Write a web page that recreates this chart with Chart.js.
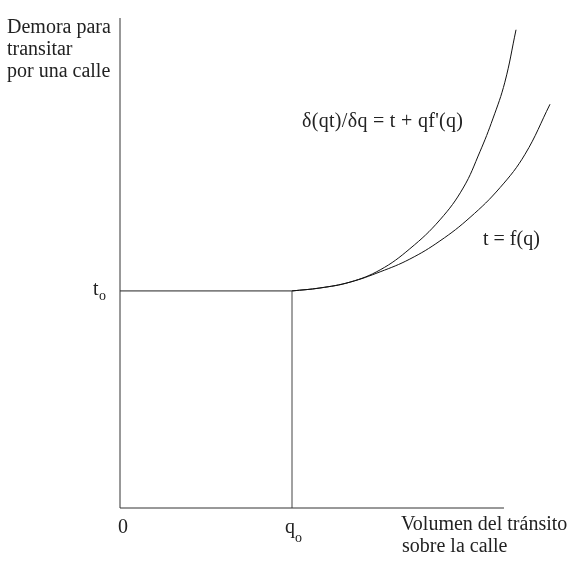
<!DOCTYPE html>
<html>
<head>
<meta charset="utf-8">
<script src="https://cdn.jsdelivr.net/npm/chart.js@4"></script>
<style>
  html, body { margin: 0; padding: 0; background: #fff; }
  canvas { display: block; }
</style>
</head>
<body>
<canvas id="chart" width="581" height="561"></canvas>
<script>
// valores (unidades arbitrarias)
const q0 = 4.0;
const t0 = 4.43;
const xAxisEnd = 8.93;
const yAxisEnd = 10;

// t = f(q)
const costX = [4.0, 4.65, 5.35, 6.05, 6.74, 7.44, 8.14, 8.84, 9.42, 10.0];
const costY = [4.43, 4.49, 4.61, 4.82, 5.08, 5.45, 5.93, 6.54, 7.22, 8.24];

// δ(qt)/δq = t + qf'(q)
const margX = [4.0, 4.65, 5.35, 6.05, 6.74, 7.44, 7.98, 8.37, 8.67, 8.95, 9.21];
const margY = [4.43, 4.49, 4.61, 4.86, 5.29, 5.88, 6.53, 7.27, 7.94, 8.69, 9.76];

const FONT = '"Liberation Serif", "Times New Roman", serif';

const toPoints = (xs, ys) => xs.map((x, i) => ({ x, y: ys[i] }));

const lineSet = (data, color, curved) => ({
  data,
  borderColor: color,
  borderWidth: 1,
  pointRadius: 0,
  showLine: true,
  fill: false,
  clip: false,
  tension: curved ? 0.4 : 0
});

// textos del diagrama
const labelsPlugin = {
  id: 'labels',
  afterDraw(chart) {
    const ctx = chart.ctx;
    const xs = chart.scales.x;
    const ys = chart.scales.y;
    ctx.save();
    ctx.fillStyle = '#222';
    ctx.textBaseline = 'alphabetic';
    ctx.textAlign = 'left';
    ctx.font = '20px ' + FONT;

    ['Demora para', 'transitar', 'por una calle'].forEach((s, i) => {
      ctx.fillText(s, 7, 33 + i * 22);
    });

    ctx.letterSpacing = '0.3px';
    ctx.fillText('δ(qt)/δq = t + qf\'(q)', 302, 127);
    ctx.letterSpacing = '0px';
    ctx.fillText('t = f(q)', 483, 245);

    // t0
    const ty = ys.getPixelForValue(t0);
    ctx.fillText('t', 93, ty + 4);
    ctx.font = '14px ' + FONT;
    ctx.fillText('o', 99, ty + 9);

    // eje horizontal
    const by = ys.getPixelForValue(0);
    ctx.font = '20px ' + FONT;
    ctx.fillText('0', xs.getPixelForValue(0) - 2, by + 25);
    const qx = xs.getPixelForValue(q0);
    ctx.fillText('q', qx - 7, by + 25);
    ctx.font = '14px ' + FONT;
    ctx.fillText('o', qx + 3, by + 34);

    ctx.font = '20px ' + FONT;
    ctx.fillText('Volumen del tránsito', 401, by + 22);
    ctx.fillText('sobre la calle', 402, by + 44);
    ctx.restore();
  }
};

new Chart(document.getElementById('chart'), {
  type: 'scatter',
  data: {
    datasets: [
      lineSet([{ x: 0, y: 0 }, { x: 0, y: yAxisEnd }], '#333', false),
      lineSet([{ x: 0, y: 0 }, { x: xAxisEnd, y: 0 }], '#333', false),
      lineSet([{ x: 0, y: t0 }, { x: q0, y: t0 }], '#222', false),
      lineSet([{ x: q0, y: 0 }, { x: q0, y: t0 }], '#444', false),
      lineSet(toPoints(margX, margY), '#111', true),
      lineSet(toPoints(costX, costY), '#111', true)
    ]
  },
  options: {
    responsive: false,
    animation: false,
    layout: { padding: { left: 120, right: 31, top: 18, bottom: 53 } },
    plugins: {
      legend: { display: false },
      tooltip: { enabled: false }
    },
    scales: {
      x: { type: 'linear', min: 0, max: 10, display: false },
      y: { type: 'linear', min: 0, max: 10, display: false }
    }
  },
  plugins: [labelsPlugin]
});
</script>
</body>
</html>
